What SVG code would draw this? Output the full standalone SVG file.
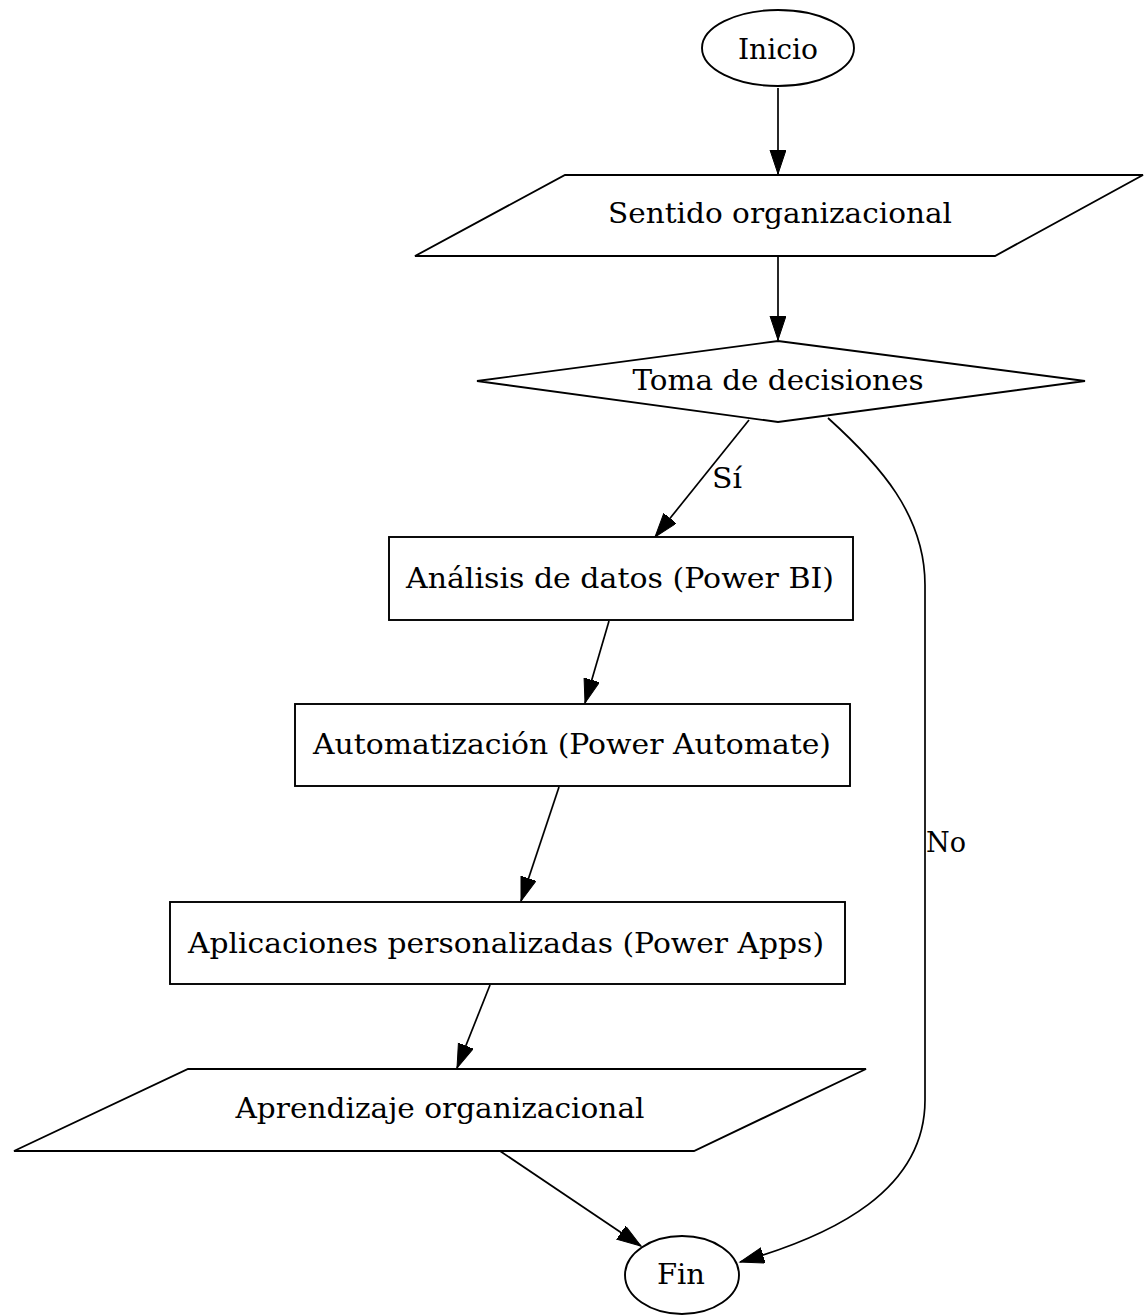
<svg xmlns="http://www.w3.org/2000/svg" width="1145" height="1315" viewBox="0 0 1145 1315">
<defs>
<style>
.shape{fill:#fff;stroke:#000;stroke-width:1.9}
.edge{fill:none;stroke:#000;stroke-width:1.7}
text{font-family:"DejaVu Serif","Liberation Serif",serif;font-size:28px;fill:#000;text-anchor:middle}
</style>
<marker id="ah" markerUnits="userSpaceOnUse" markerWidth="26" markerHeight="18" refX="24" refY="8" orient="auto">
<path d="M0,0 L24,8 L0,16 z" fill="#000" stroke="#000" stroke-width="1"/>
</marker>
</defs>
<rect width="1145" height="1315" fill="#fff"/>
<g id="edges">
<path class="edge" d="M778,88 L778,174" marker-end="url(#ah)"/>
<path class="edge" d="M778,257 L778,340" marker-end="url(#ah)"/>
<path class="edge" d="M749,420 L655,537" marker-end="url(#ah)"/>
<path class="edge" d="M609,621 L585,703" marker-end="url(#ah)"/>
<path class="edge" d="M559,787 L521,901" marker-end="url(#ah)"/>
<path class="edge" d="M490,985 L457,1068" marker-end="url(#ah)"/>
<path class="edge" d="M500,1151 L641,1246" marker-end="url(#ah)"/>
<path class="edge" d="M828,418 C880,465 925,515 925,585 L925,1100 C925,1190 835,1235 740,1262" marker-end="url(#ah)"/>
<text x="727" y="488" textLength="30" lengthAdjust="spacingAndGlyphs">Sí</text>
<text x="946" y="852" textLength="40" lengthAdjust="spacingAndGlyphs">No</text>
</g>
<g id="inicio"><ellipse class="shape" cx="778" cy="48" rx="76" ry="38"/><text x="778" y="59" textLength="80" lengthAdjust="spacingAndGlyphs">Inicio</text></g>
<g id="sentido"><polygon class="shape" points="565,175 1143,175 995,256 415,256"/><text x="780" y="223" textLength="344" lengthAdjust="spacingAndGlyphs">Sentido organizacional</text></g>
<g id="toma"><polygon class="shape" points="778,341 1085,381 778,422 477,381"/><text x="778" y="390" textLength="291" lengthAdjust="spacingAndGlyphs">Toma de decisiones</text></g>
<g id="analisis"><rect class="shape" x="389" y="537" width="464" height="83"/><text x="620" y="588" textLength="428" lengthAdjust="spacingAndGlyphs">Análisis de datos (Power BI)</text></g>
<g id="automatizacion"><rect class="shape" x="295" y="704" width="555" height="82"/><text x="572" y="754" textLength="518" lengthAdjust="spacingAndGlyphs">Automatización (Power Automate)</text></g>
<g id="aplicaciones"><rect class="shape" x="170" y="902" width="675" height="82"/><text x="506" y="953" textLength="636" lengthAdjust="spacingAndGlyphs">Aplicaciones personalizadas (Power Apps)</text></g>
<g id="aprendizaje"><polygon class="shape" points="188,1069 866,1069 694,1151 14,1151"/><text x="440" y="1118" textLength="409" lengthAdjust="spacingAndGlyphs">Aprendizaje organizacional</text></g>
<g id="fin"><ellipse class="shape" cx="682" cy="1275" rx="57" ry="39"/><text x="681" y="1284" textLength="48" lengthAdjust="spacingAndGlyphs">Fin</text></g>
</svg>
